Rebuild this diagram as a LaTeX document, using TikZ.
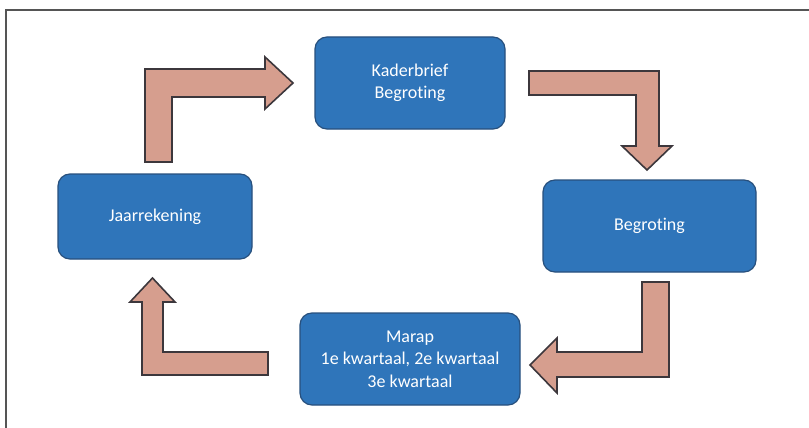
\documentclass[tikz,border=0pt]{standalone}
\usepackage{fontspec}
\setmainfont{Carlito}[RawFeature={-liga;-clig;-dlig}]
\definecolor{boxblue}{RGB}{47,117,186}
\definecolor{boxedge}{RGB}{40,80,125}
\definecolor{arrowfill}{RGB}{214,158,142}
\definecolor{arrowedge}{RGB}{60,55,60}
\definecolor{framegray}{RGB}{85,85,85}
\tikzset{
  procbox/.style={draw=boxedge, fill=boxblue, line width=1.2pt, rounded corners=12pt,
    text=white, align=center, inner sep=0pt,
    font=\fontsize{18}{22.5}\selectfont},
  blockarrow/.style={draw=arrowedge, fill=arrowfill, line width=1.6pt, line join=miter}
}
\begin{document}
\begin{tikzpicture}[x=1pt,y=-1pt]
\useasboundingbox (0,0) rectangle (809,428);
\fill[white] (0,0) rectangle (809,428);
% frame (cropped at right and bottom)
\draw[framegray, line width=2pt] (6,428) -- (6,10) -- (809,10);
% boxes
\node[procbox, minimum width=190pt, minimum height=92pt] (kb) at (410,83) {Kaderbrief\\Begroting};
\node[procbox, minimum width=213pt, minimum height=92pt] (bg) at (649.5,226) {Begroting};
\node[procbox, minimum width=220pt, minimum height=92pt] (mr) at (410,359) {Marap\\1e kwartaal, 2e kwartaal\\3e kwartaal};
\node[procbox, minimum width=194pt, minimum height=85pt] (jr) at (155,216.5) {Jaarrekening};
% block arrows
\draw[blockarrow] (145,162) -- (145,69) -- (265,69) -- (265,57) -- (293,83) -- (265,109) -- (265,97) -- (172,97) -- (172,162) -- cycle;
\draw[blockarrow] (529,71) -- (659,71) -- (659,146) -- (672,146) -- (647,170) -- (622,146) -- (636,146) -- (636,95) -- (529,95) -- cycle;
\draw[blockarrow] (642,282) -- (669,282) -- (669,377) -- (557,377) -- (557,393) -- (530,365) -- (557,338) -- (557,352) -- (642,352) -- cycle;
\draw[blockarrow] (268,352) -- (268,375) -- (142,375) -- (142,302) -- (130,302) -- (152.5,278) -- (175,302) -- (163,302) -- (163,352) -- cycle;
\end{tikzpicture}
\end{document}
